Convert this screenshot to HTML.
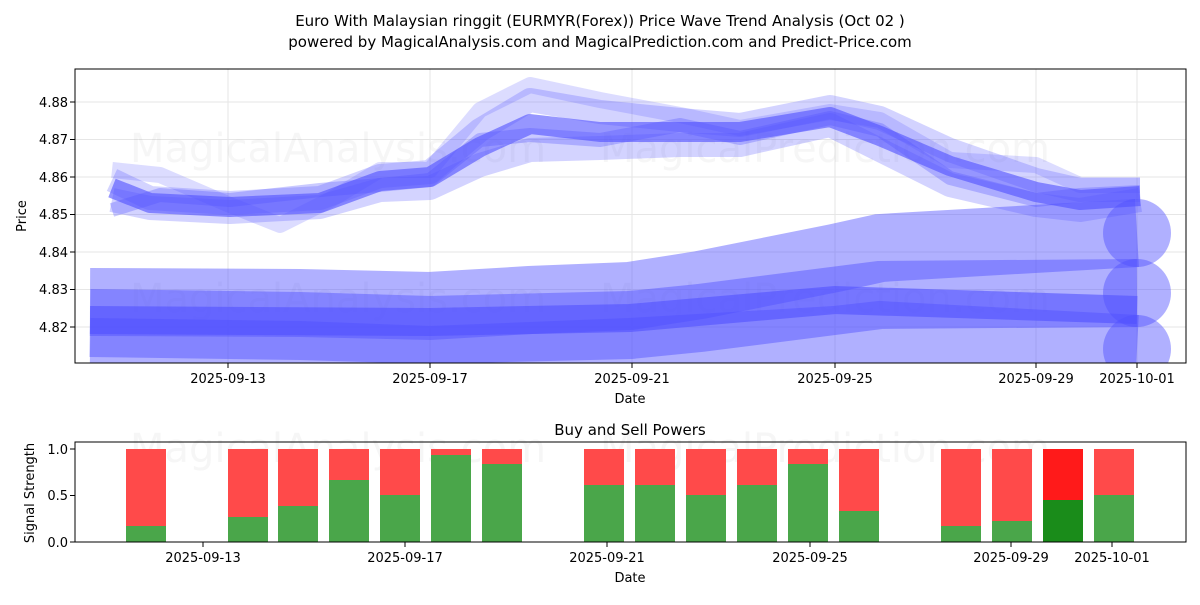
<!DOCTYPE html>
<html><head><style>body{margin:0;background:#fff}svg text{font-family:"DejaVu Sans","Liberation Sans",sans-serif;fill:#000}</style></head><body>
<svg width="1200" height="600" xmlns="http://www.w3.org/2000/svg">
<defs>
<clipPath id="c1"><rect x="75" y="69" width="1111" height="294"/></clipPath>
</defs>
<text x="600" y="26" font-size="15" text-anchor="middle">Euro With Malaysian ringgit (EURMYR(Forex)) Price Wave Trend Analysis (Oct 02 )</text>
<text x="600" y="47" font-size="15" text-anchor="middle">powered by MagicalAnalysis.com and MagicalPrediction.com and Predict-Price.com</text>
<g stroke="#e6e6e6" stroke-width="1">
<line x1="228" y1="69" x2="228" y2="363"/><line x1="430" y1="69" x2="430" y2="363"/><line x1="632" y1="69" x2="632" y2="363"/><line x1="835" y1="69" x2="835" y2="363"/><line x1="1036" y1="69" x2="1036" y2="363"/><line x1="1137" y1="69" x2="1137" y2="363"/>
<line x1="75" y1="102" x2="1186" y2="102"/><line x1="75" y1="139.5" x2="1186" y2="139.5"/><line x1="75" y1="177" x2="1186" y2="177"/><line x1="75" y1="214.5" x2="1186" y2="214.5"/><line x1="75" y1="252" x2="1186" y2="252"/><line x1="75" y1="289.5" x2="1186" y2="289.5"/><line x1="75" y1="327" x2="1186" y2="327"/>
</g>
<g font-size="40" opacity="0.07"><text x="130" y="162" style="fill:#888">MagicalAnalysis.com</text><text x="600" y="162" style="fill:#888">MagicalPrediction.com</text><text x="130" y="312" style="fill:#888">MagicalAnalysis.com</text><text x="600" y="312" style="fill:#888">MagicalPrediction.com</text></g>
<g clip-path="url(#c1)" fill="none" stroke="#5050ff">
<g stroke-opacity="0.45" stroke-width="68">
<path d="M90,302 L300,303 L430,306 L530,300 L630,296 L700,285 L835,258 L880,248 L1137,233"/>
<path d="M90,323 L300,326 L430,330 L630,325 L700,318 L880,295 L1137,293"/>
<path d="M90,352 L300,355 L430,360 L630,352 L835,340 L880,335 L1137,349"/>
</g>
<g fill="#5050ff" fill-opacity="0.45" stroke="none"><circle cx="1137" cy="233" r="34"/><circle cx="1137" cy="293" r="34"/><circle cx="1137" cy="349" r="34"/></g>
<path d="M90,320 L430,322 L630,318 L835,300 L1137,310" stroke-width="28" stroke-opacity="0.6"/>
<g stroke-linejoin="round">
<path d="M112,188 L150,203 L230,207 L320,203 L380,181 L430,177 L480,147 L530,124 L600,132 L680,132 L740,132 L830,117 L880,136 L950,166 L1036,192 L1080,200 L1140,196" stroke-width="20" stroke-opacity="0.6"/>
<path d="M112,180 L150,198 L230,203 L320,198 L380,176 L430,172 L480,130 L530,100 L600,112 L680,120 L740,125 L830,107 L880,118 L950,150 L1036,180 L1080,190 L1140,190" stroke-width="24" stroke-opacity="0.25"/>
<path d="M112,200 L150,208 L230,212 L320,207 L380,190 L430,188 L480,165 L530,150 L600,148 L680,145 L740,145 L830,125 L880,150 L950,185 L1036,205 L1080,210 L1140,200" stroke-width="24" stroke-opacity="0.25"/>
<path d="M112,170 L160,175 L230,205 L280,225 L330,200 L380,170 L430,170 L480,110 L530,85 L600,100 L680,115 L740,128 L830,112 L880,120 L950,160 L1036,165 L1080,185 L1140,185" stroke-width="16" stroke-opacity="0.2"/>
<path d="M112,210 L160,195 L230,200 L320,190 L380,185 L430,180 L480,140 L530,135 L600,140 L680,125 L740,138 L830,118 L880,130 L950,178 L1036,200 L1080,195 L1140,192" stroke-width="14" stroke-opacity="0.3"/>
</g>
</g>
<rect x="75" y="69" width="1111" height="294" fill="none" stroke="#000" stroke-width="1"/>
<g font-size="13" text-anchor="end">
<text x="68" y="107">4.88</text><text x="68" y="144">4.87</text><text x="68" y="182">4.86</text><text x="68" y="219">4.85</text><text x="68" y="257">4.84</text><text x="68" y="294">4.83</text><text x="68" y="332">4.82</text>
</g>
<g stroke="#000"><line x1="70" y1="102" x2="75" y2="102"/><line x1="70" y1="139.5" x2="75" y2="139.5"/><line x1="70" y1="177" x2="75" y2="177"/><line x1="70" y1="214.5" x2="75" y2="214.5"/><line x1="70" y1="252" x2="75" y2="252"/><line x1="70" y1="289.5" x2="75" y2="289.5"/><line x1="70" y1="327" x2="75" y2="327"/>
<line x1="228" y1="363" x2="228" y2="368"/><line x1="430" y1="363" x2="430" y2="368"/><line x1="632" y1="363" x2="632" y2="368"/><line x1="835" y1="363" x2="835" y2="368"/><line x1="1036" y1="363" x2="1036" y2="368"/><line x1="1137" y1="363" x2="1137" y2="368"/></g>
<g font-size="13" text-anchor="middle">
<text x="228" y="383">2025-09-13</text><text x="430" y="383">2025-09-17</text><text x="632" y="383">2025-09-21</text><text x="835" y="383">2025-09-25</text><text x="1036" y="383">2025-09-29</text><text x="1137" y="383">2025-10-01</text>
<text x="630" y="403">Date</text>
</g>
<text x="26" y="216" font-size="13" text-anchor="middle" transform="rotate(-90 26 216)">Price</text>
<text x="630" y="435" font-size="15" text-anchor="middle">Buy and Sell Powers</text>
<g font-size="40" opacity="0.07"><text x="130" y="462" style="fill:#888">MagicalAnalysis.com</text><text x="600" y="462" style="fill:#888">MagicalPrediction.com</text></g>
<g>
<rect x="126" y="449" width="40" height="93" fill="#ff4a4a"/><rect x="126" y="526" width="40" height="16" fill="#4aa64a"/>
<rect x="228" y="449" width="40" height="93" fill="#ff4a4a"/><rect x="228" y="517" width="40" height="25" fill="#4aa64a"/>
<rect x="278" y="449" width="40" height="93" fill="#ff4a4a"/><rect x="278" y="506" width="40" height="36" fill="#4aa64a"/>
<rect x="329" y="449" width="40" height="93" fill="#ff4a4a"/><rect x="329" y="480" width="40" height="62" fill="#4aa64a"/>
<rect x="380" y="449" width="40" height="93" fill="#ff4a4a"/><rect x="380" y="495" width="40" height="47" fill="#4aa64a"/>
<rect x="431" y="449" width="40" height="93" fill="#ff4a4a"/><rect x="431" y="455" width="40" height="87" fill="#4aa64a"/>
<rect x="482" y="449" width="40" height="93" fill="#ff4a4a"/><rect x="482" y="464" width="40" height="78" fill="#4aa64a"/>
<rect x="584" y="449" width="40" height="93" fill="#ff4a4a"/><rect x="584" y="485" width="40" height="57" fill="#4aa64a"/>
<rect x="635" y="449" width="40" height="93" fill="#ff4a4a"/><rect x="635" y="485" width="40" height="57" fill="#4aa64a"/>
<rect x="686" y="449" width="40" height="93" fill="#ff4a4a"/><rect x="686" y="495" width="40" height="47" fill="#4aa64a"/>
<rect x="737" y="449" width="40" height="93" fill="#ff4a4a"/><rect x="737" y="485" width="40" height="57" fill="#4aa64a"/>
<rect x="788" y="449" width="40" height="93" fill="#ff4a4a"/><rect x="788" y="464" width="40" height="78" fill="#4aa64a"/>
<rect x="839" y="449" width="40" height="93" fill="#ff4a4a"/><rect x="839" y="511" width="40" height="31" fill="#4aa64a"/>
<rect x="941" y="449" width="40" height="93" fill="#ff4a4a"/><rect x="941" y="526" width="40" height="16" fill="#4aa64a"/>
<rect x="992" y="449" width="40" height="93" fill="#ff4a4a"/><rect x="992" y="521" width="40" height="21" fill="#4aa64a"/>
<rect x="1043" y="449" width="40" height="93" fill="#ff1a1a"/><rect x="1043" y="500" width="40" height="42" fill="#1a8c1a"/>
<rect x="1094" y="449" width="40" height="93" fill="#ff4a4a"/><rect x="1094" y="495" width="40" height="47" fill="#4aa64a"/>
</g>
<rect x="75" y="442" width="1111" height="100" fill="none" stroke="#000" stroke-width="1"/>
<g stroke="#000"><line x1="70" y1="449" x2="75" y2="449"/><line x1="70" y1="495.5" x2="75" y2="495.5"/><line x1="70" y1="542" x2="75" y2="542"/>
<line x1="203" y1="542" x2="203" y2="547"/><line x1="405" y1="542" x2="405" y2="547"/><line x1="607" y1="542" x2="607" y2="547"/><line x1="810" y1="542" x2="810" y2="547"/><line x1="1011" y1="542" x2="1011" y2="547"/><line x1="1112" y1="542" x2="1112" y2="547"/></g>
<g font-size="13" text-anchor="end"><text x="68" y="454">1.0</text><text x="68" y="500">0.5</text><text x="68" y="547">0.0</text></g>
<g font-size="13" text-anchor="middle">
<text x="203" y="562">2025-09-13</text><text x="405" y="562">2025-09-17</text><text x="607" y="562">2025-09-21</text><text x="810" y="562">2025-09-25</text><text x="1011" y="562">2025-09-29</text><text x="1112" y="562">2025-10-01</text>
<text x="630" y="582">Date</text>
</g>
<text x="34" y="493" font-size="13" text-anchor="middle" transform="rotate(-90 34 493)">Signal Strength</text>
</svg>
</body></html>
